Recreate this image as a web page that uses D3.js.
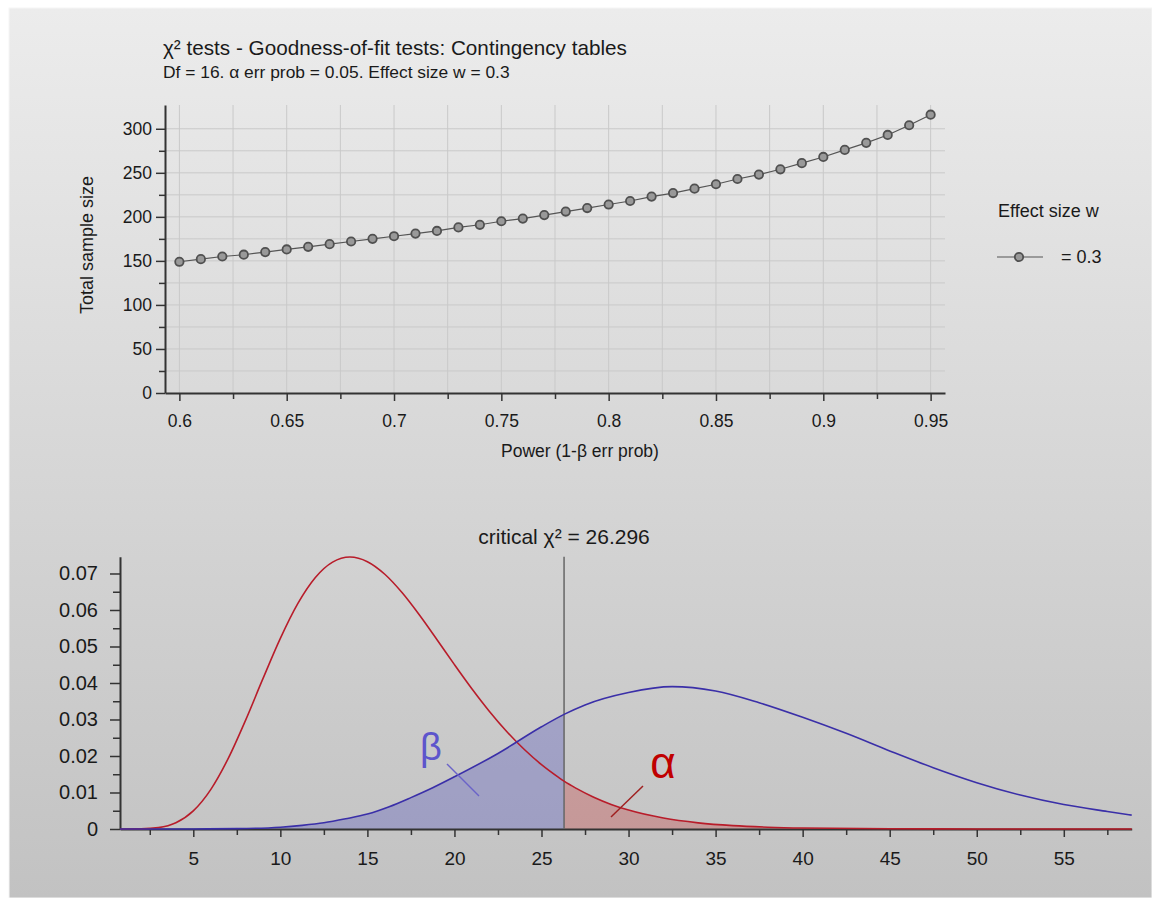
<!DOCTYPE html>
<html>
<head>
<meta charset="utf-8">
<script src="https://cdn.jsdelivr.net/npm/d3@7"></script>
<style>
  body { margin: 0; background: #fff; }
  text { font-family: "Liberation Sans", Arial, sans-serif; fill: #1a1a1a; }
</style>
</head>
<body>
<svg id="chart" width="1152" height="898"></svg>
<script>
// --- top chart: total sample size vs power
let power = [0.60,0.61,0.62,0.63,0.64,0.65,0.66,0.67,0.68,0.69,0.70,0.71,0.72,0.73,0.74,0.75,0.76,0.77,0.78,0.79,0.80,0.81,0.82,0.83,0.84,0.85,0.86,0.87,0.88,0.89,0.90,0.91,0.92,0.93,0.94,0.95];
let sampleSize = [149,152,155,157,160,163,166,169,172,175,178,181,184,188,191,195,198,202,206,210,214,218,223,227,232,237,243,248,254,261,268,276,284,293,304,316];
let topXTicks = [0.6,0.65,0.7,0.75,0.8,0.85,0.9,0.95];
let topXLabels = ["0.6","0.65","0.7","0.75","0.8","0.85","0.9","0.95"];
let topYTicks = [0,50,100,150,200,250,300];

// --- bottom chart: central (H0) and noncentral (H1) chi-square densities
let critX = 26.296;
let h0X = [0.79,1,2,3,4,5,6,7,8,9,10,11,12,13,14,15,16,17,18,19,20,21,22,23,24,25,26,26.296,27,28,29,30,32,34,36,38,40,45,50,55,58.9];
let h0Y = [0,0,0.00004,0.00038,0.00172,0.00497,0.0108,0.01927,0.02977,0.04118,0.05222,0.06173,0.06884,0.07312,0.0745,0.07324,0.06979,0.06471,0.05856,0.05186,0.04504,0.03844,0.03229,0.02673,0.02184,0.01763,0.01407,0.0131,0.01112,0.0087,0.00674,0.00519,0.003,0.00169,0.00093,0.0005,0.00026,0.00005,0.00001,0,0];
let h1X = [0.79,5,7.5,10,11.25,12.5,13.75,15,16.25,17.5,18.75,20,22.5,25,26.296,27.5,30,32.5,35,37.5,40,42.5,45,47.5,50,52.5,55,57.5,58.9];
let h1Y = [0,0.00002,0.0001,0.0005,0.001,0.0017,0.0028,0.0041,0.0061,0.0086,0.0113,0.0143,0.0207,0.028,0.0314,0.034,0.0374,0.039,0.0378,0.0346,0.0306,0.0262,0.0214,0.0168,0.0127,0.0093,0.0067,0.0048,0.0038];
let botXTicks = [5,10,15,20,25,30,35,40,45,50,55];
let botYTicks = [0,0.01,0.02,0.03,0.04,0.05,0.06,0.07];

var svg = d3.select("#chart");

// background panel with gradient
var defs = svg.append("defs");
var grad = defs.append("linearGradient").attr("id", "bg").attr("x1", 0).attr("y1", 0).attr("x2", 0).attr("y2", 1);
grad.append("stop").attr("offset", "0%").attr("stop-color", "#ececec");
grad.append("stop").attr("offset", "100%").attr("stop-color", "#c2c2c2");
svg.append("rect").attr("x", 9).attr("y", 8).attr("width", 1143).attr("height", 890)
    .attr("fill", "url(#bg)").attr("stroke", "#f6f6f6");

// ================= top chart =================
var xTop = d3.scaleLinear().domain([0.5933, 0.9567]).range([165, 945]);
var yTop = d3.scaleLinear().domain([0, 327]).range([393, 105]);

svg.append("text").attr("x", 163).attr("y", 55).style("font-size", "20.7px")
    .text("χ² tests - Goodness-of-fit tests: Contingency tables");
svg.append("text").attr("x", 163).attr("y", 78).style("font-size", "17.4px")
    .text("Df = 16. α err prob = 0.05. Effect size w = 0.3");

// grid
var gridG = svg.append("g").attr("stroke", "#c9c9c9").attr("stroke-width", 1);
gridG.selectAll(".vg").data(d3.range(0, 15).map(i => 0.6 + i * 0.025)).enter().append("line")
    .attr("x1", d => xTop(d)).attr("x2", d => xTop(d))
    .attr("y1", yTop(0)).attr("y2", 105);
gridG.selectAll(".hg").data(d3.range(1, 13).map(i => i * 25)).enter().append("line")
    .attr("x1", 165).attr("x2", 945)
    .attr("y1", d => yTop(d)).attr("y2", d => yTop(d));

// axes
var xAxisTop = svg.append("g").attr("transform", "translate(0," + yTop(0) + ")")
    .call(d3.axisBottom(xTop).tickValues(topXTicks).tickSize(8).tickSizeOuter(0)
        .tickFormat((d, i) => topXLabels[i]));
svg.append("g").attr("transform", "translate(0," + yTop(0) + ")")
    .call(d3.axisBottom(xTop).tickValues(topXTicks.slice(0, -1).map(d => d + 0.025)).tickSize(6).tickSizeOuter(0).tickFormat(""))
    .select(".domain").remove();
var yAxisTop = svg.append("g").attr("transform", "translate(165,0)")
    .call(d3.axisLeft(yTop).tickValues(topYTicks).tickSize(9).tickSizeOuter(0));
svg.append("g").attr("transform", "translate(165,0)")
    .call(d3.axisLeft(yTop).tickValues(d3.range(0, 6).map(i => 25 + i * 50)).tickSize(6).tickSizeOuter(0).tickFormat(""))
    .select(".domain").remove();

xAxisTop.selectAll("text").style("font-size", "17.5px").attr("dy", "1.3em");
yAxisTop.selectAll("text").style("font-size", "17.5px").attr("x", -13);
svg.selectAll(".domain").attr("stroke", "#333").attr("stroke-width", 2);
svg.selectAll(".tick line").attr("stroke", "#333").attr("stroke-width", 1.5);

svg.append("text").attr("transform", "translate(93,245) rotate(-90)")
    .attr("text-anchor", "middle").style("font-size", "18px").text("Total sample size");
svg.append("text").attr("x", 580).attr("y", 457).attr("text-anchor", "middle")
    .style("font-size", "17.5px").text("Power (1-β err prob)");

var topData = power.map((p, i) => ({ x: p, y: sampleSize[i] }));
svg.append("path").datum(topData)
    .attr("fill", "none").attr("stroke", "#555").attr("stroke-width", 1.2)
    .attr("d", d3.line().x(d => xTop(d.x)).y(d => yTop(d.y)));
svg.selectAll(".pt").data(topData).enter().append("circle")
    .attr("cx", d => xTop(d.x)).attr("cy", d => yTop(d.y)).attr("r", 4.2)
    .attr("fill", "#999").attr("stroke", "#505050").attr("stroke-width", 1.8);

// legend
svg.append("text").attr("x", 998).attr("y", 217).style("font-size", "18px").text("Effect size w");
svg.append("line").attr("x1", 997).attr("x2", 1043).attr("y1", 257).attr("y2", 257)
    .attr("stroke", "#555").attr("stroke-width", 1.2);
svg.append("circle").attr("cx", 1019).attr("cy", 257).attr("r", 4.2)
    .attr("fill", "#999").attr("stroke", "#505050").attr("stroke-width", 1.8);
svg.append("text").attr("x", 1061).attr("y", 263).style("font-size", "18px").text("= 0.3");

// ================= bottom chart =================
var xBot = d3.scaleLinear().domain([0.79, 58.9]).range([120, 1131.7]);
var yBot = d3.scaleLinear().domain([0, 0.0746]).range([829, 556.7]);

var h0 = h0X.map((x, i) => ({ x: x, y: h0Y[i] }));
var h1 = h1X.map((x, i) => ({ x: x, y: h1Y[i] }));

var area = d3.area().x(d => xBot(d.x)).y0(yBot(0)).y1(d => yBot(d.y)).curve(d3.curveMonotoneX);
var line = d3.line().x(d => xBot(d.x)).y(d => yBot(d.y)).curve(d3.curveMonotoneX);

svg.append("path").datum(h1.filter(d => d.x <= critX))
    .attr("fill", "rgba(70,70,190,0.3)").attr("d", area);
svg.append("path").datum(h0.filter(d => d.x >= critX))
    .attr("fill", "rgba(200,50,50,0.3)").attr("d", area);

var xAxisBot = svg.append("g").attr("transform", "translate(0,829)")
    .call(d3.axisBottom(xBot).tickValues(botXTicks).tickSize(8).tickSizeOuter(0));
svg.append("g").attr("transform", "translate(0,829)")
    .call(d3.axisBottom(xBot).tickValues(botXTicks.map(d => d - 2.5).concat([57.5])).tickSize(6).tickSizeOuter(0).tickFormat(""))
    .select(".domain").remove();
var yAxisBot = svg.append("g").attr("transform", "translate(120,0)")
    .call(d3.axisLeft(yBot).tickValues(botYTicks).tickSize(10).tickSizeOuter(0)
        .tickFormat(d => d === 0 ? "0" : d3.format(".2f")(d)));
svg.append("g").attr("transform", "translate(120,0)")
    .call(d3.axisLeft(yBot).tickValues(botYTicks.slice(0, -1).map(d => d + 0.005)).tickSize(7).tickSizeOuter(0).tickFormat(""))
    .select(".domain").remove();

xAxisBot.selectAll("text").style("font-size", "19px").attr("dy", "1.3em");
yAxisBot.selectAll("text").style("font-size", "20px").attr("x", -22);
svg.selectAll(".domain").attr("stroke", "#333").attr("stroke-width", 2);
svg.selectAll(".tick line").attr("stroke", "#333").attr("stroke-width", 1.5);

// critical line
svg.append("line").attr("x1", xBot(critX)).attr("x2", xBot(critX))
    .attr("y1", yBot(0)).attr("y2", 556.7).attr("stroke", "#666").attr("stroke-width", 1.5);
svg.append("text").attr("x", xBot(critX)).attr("y", 544).attr("text-anchor", "middle")
    .style("font-size", "21px").text("critical χ² = 26.296");

svg.append("path").datum(h0).attr("fill", "none").attr("stroke", "#b81c2a").attr("stroke-width", 1.6).attr("d", line);
svg.append("path").datum(h1).attr("fill", "none").attr("stroke", "#3a2fa8").attr("stroke-width", 1.6).attr("d", line);

// beta / alpha labels
svg.append("text").attr("x", 431).attr("y", 760).attr("text-anchor", "middle")
    .style("font-size", "38px").style("fill", "#5d55cc").text("β");
svg.append("line").attr("x1", 447).attr("y1", 764).attr("x2", 479).attr("y2", 796)
    .attr("stroke", "#6a63c8").attr("stroke-width", 1.5);
svg.append("text").attr("x", 663).attr("y", 778).attr("text-anchor", "middle")
    .style("font-size", "44px").style("fill", "#c00000").text("α");
svg.append("line").attr("x1", 643).attr("y1", 786).attr("x2", 611).attr("y2", 817)
    .attr("stroke", "#a02020").attr("stroke-width", 1.5);
</script>
</body>
</html>
